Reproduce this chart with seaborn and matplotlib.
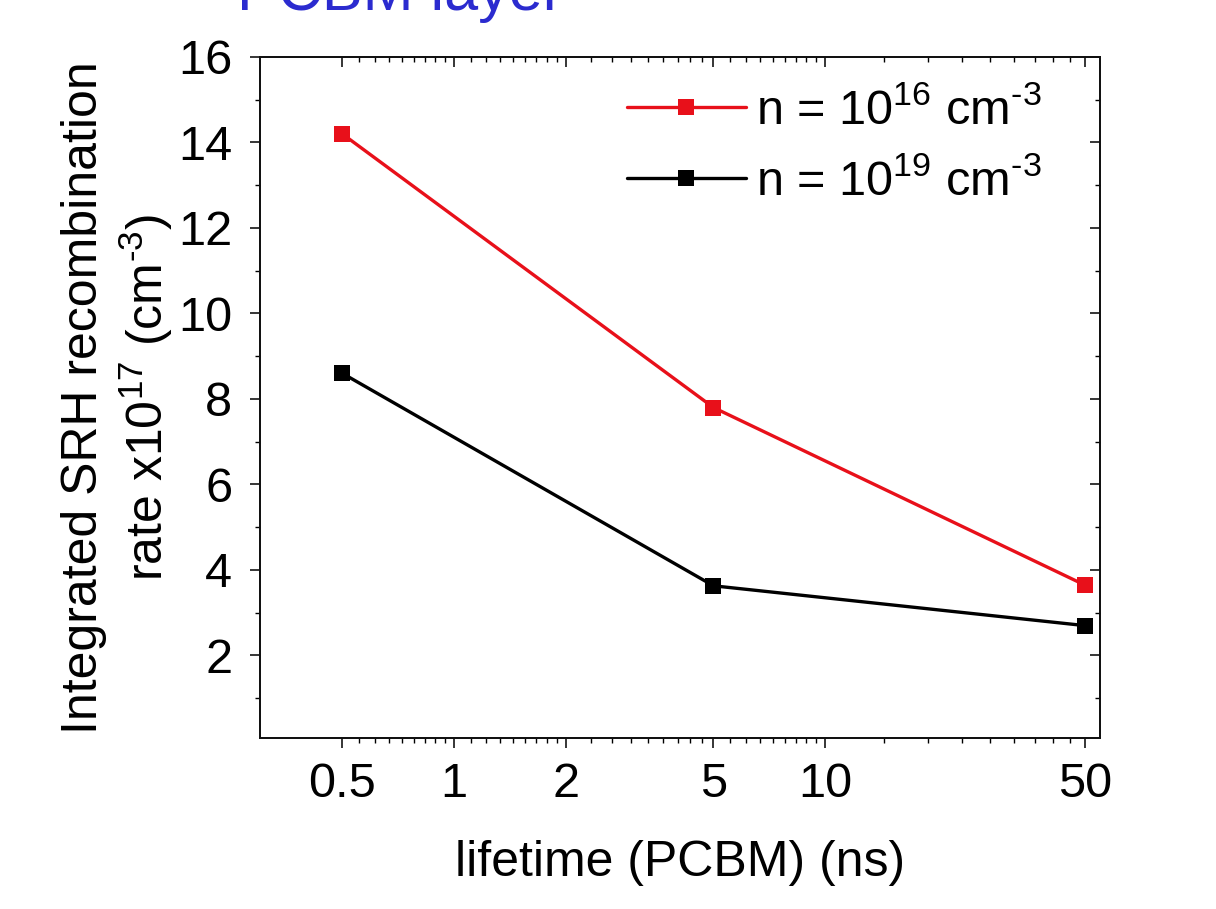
import numpy as np
import pandas as pd
import matplotlib
matplotlib.use("Agg")
import matplotlib.pyplot as plt
import seaborn as sns
from matplotlib.ticker import FixedLocator, NullFormatter, FixedFormatter

# ---- data ----
lifetime_ns = [0.5, 5, 50]
rate_n16 = [14.2, 7.8, 3.65]
rate_n19 = [8.6, 3.63, 2.7]
series_labels = ["n = 10$^{16}$ cm$^{\u20103}$", "n = 10$^{19}$ cm$^{\u20103}$"]
series_colors = ["#e8101a", "#000000"]
x_major_ticks = [0.5, 1, 2, 5, 10, 50]
x_tick_labels = ["0.5", "1", "2", "5", "10", "50"]
y_major_ticks = [2, 4, 6, 8, 10, 12, 14, 16]

df = pd.DataFrame({
    "lifetime": lifetime_ns * 2,
    "rate": rate_n16 + rate_n19,
    "series": [series_labels[0]] * 3 + [series_labels[1]] * 3,
})

sns.set_style("ticks")
plt.rcParams["font.family"] = ["Liberation Sans", "DejaVu Sans"]
plt.rcParams["mathtext.fontset"] = "custom"
plt.rcParams["mathtext.rm"] = "Liberation Sans"
plt.rcParams["mathtext.it"] = "Liberation Sans"
plt.rcParams["mathtext.default"] = "regular"
for k in ["text.color", "axes.labelcolor", "xtick.color", "ytick.color", "axes.edgecolor"]:
    plt.rcParams[k] = "black"

FS = 36
TFS = 35
LFS = 35

fig = plt.figure(figsize=(12.16, 9.09), dpi=100)
ax = fig.add_axes([260/1216, 1-738/909, (1100-260)/1216, (738-57)/909])
ax.set_xscale("log")

sns.lineplot(data=df, x="lifetime", y="rate", hue="series", style="series",
             palette=dict(zip(series_labels, series_colors)),
             markers=["s", "s"], dashes=False, markersize=11,
             markeredgewidth=0, linewidth=2.4, ax=ax, legend=True)

xlim = (0.3, 55)
ylim = (0.07, 16)
ax.set_xlim(*xlim)
ax.set_ylim(*ylim)

# minor ticks: 8 per major interval, linear spacing
minor_x = []
for a, b in zip(x_major_ticks[:-1], x_major_ticks[1:]):
    minor_x.extend(np.linspace(a, b, 10)[1:-1])
minor_y = [1, 3, 5, 7, 9, 11, 13, 15]

ax.xaxis.set_major_locator(FixedLocator(x_major_ticks))
ax.xaxis.set_major_formatter(FixedFormatter(x_tick_labels))
ax.xaxis.set_minor_locator(FixedLocator(minor_x))
ax.xaxis.set_minor_formatter(NullFormatter())
ax.yaxis.set_major_locator(FixedLocator(y_major_ticks))
ax.yaxis.set_minor_locator(FixedLocator(minor_y))

for sp in ax.spines.values():
    sp.set_visible(True)
    sp.set_linewidth(1.2)
    sp.set_color("#111111")

ax.tick_params(which="major", direction="out", length=7, width=1.1, labelsize=TFS)
ax.tick_params(axis="x", which="major", pad=10)
ax.tick_params(axis="y", which="major", pad=13)
ax.tick_params(which="minor", direction="out", length=3.5, width=1.0)

# mirrored ticks (inward) on top and right
axt = ax.twiny()
axt.set_xscale("log")
axt.set_xlim(*xlim)
axt.xaxis.set_major_locator(FixedLocator(x_major_ticks))
axt.xaxis.set_minor_locator(FixedLocator(minor_x))
axt.xaxis.set_major_formatter(NullFormatter())
axt.xaxis.set_minor_formatter(NullFormatter())
axt.tick_params(which="major", direction="in", length=7, width=1.1)
axt.tick_params(which="minor", direction="in", length=3.5, width=1.0)
axr = ax.twinx()
axr.set_ylim(*ylim)
axr.yaxis.set_major_locator(FixedLocator(y_major_ticks))
axr.yaxis.set_minor_locator(FixedLocator(minor_y))
axr.yaxis.set_major_formatter(NullFormatter())
axr.tick_params(which="major", direction="in", length=7, width=1.1)
axr.tick_params(which="minor", direction="in", length=3.5, width=1.0)
for a in (axt, axr):
    for sp in a.spines.values():
        sp.set_linewidth(1.2)
        sp.set_color("#111111")

ax.set_xlabel("lifetime (PCBM) (ns)", fontsize=FS, labelpad=24)
ax.set_ylabel("Integrated SRH recombination\nrate x10$^{17}$ (cm$^{\u20103}$)",
              fontsize=FS, labelpad=2, linespacing=1.22)

handles, labels = ax.get_legend_handles_labels()
leg = ax.legend(handles, labels, loc="upper right", bbox_to_anchor=(0.966, 0.997),
                frameon=False, fontsize=LFS, handlelength=2.45, handletextpad=0.22,
                labelspacing=0.52, borderaxespad=0.2)

fig.text(237/1216, 1-10/909, "PCBM layer", fontsize=44, color="#2b2bcf",
         va="baseline", ha="left")

fig.savefig("out.png", dpi=100)
